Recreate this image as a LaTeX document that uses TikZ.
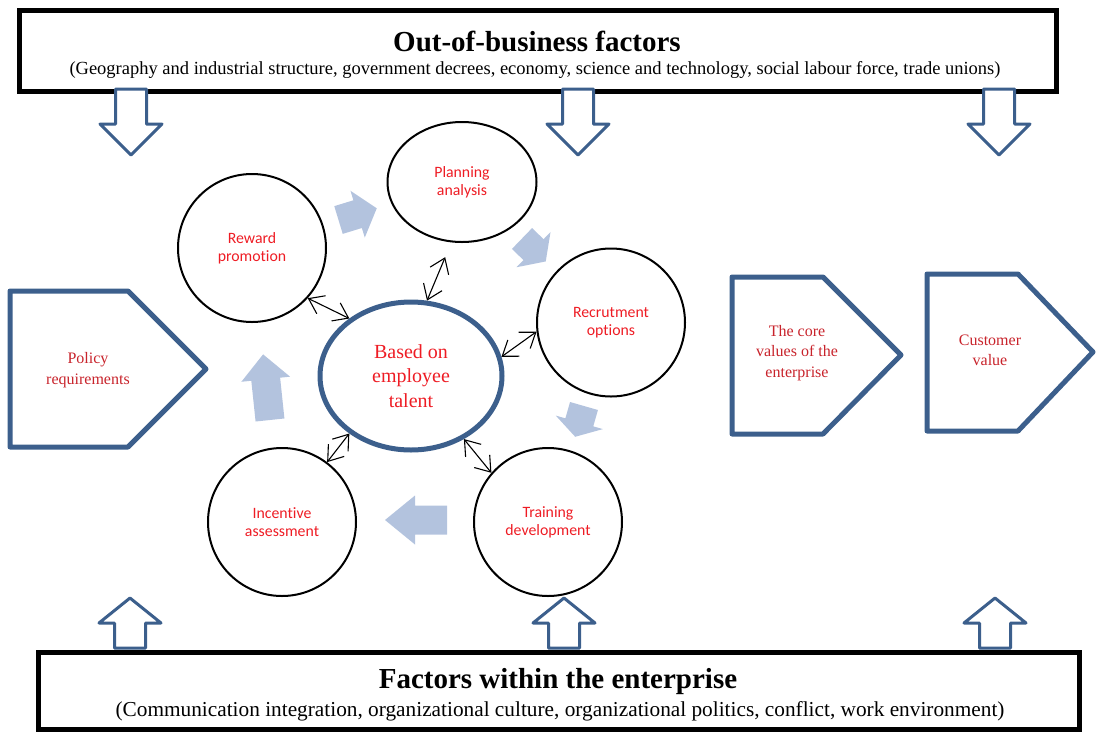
\documentclass[tikz,border=0pt]{standalone}
\usepackage{fontspec}
\setmainfont{Liberation Serif}
\newfontfamily\calib[RawFeature={-liga;-clig;-calt;-dlig}]{Carlito}
\usetikzlibrary{arrows.meta,shapes.geometric}
\definecolor{dblue}{HTML}{3C5F8C}
\definecolor{lblue}{HTML}{B3C3DE}
\definecolor{cred}{HTML}{EE1C24}
\definecolor{pred}{HTML}{C8232B}
\tikzset{
  framebox/.style={draw=black, line width=5pt, inner sep=0pt},
  circnode/.style={circle, draw=black, line width=2pt, inner sep=0pt, minimum size=148pt,
    align=center, text=cred, font=\calib\fontsize{15.8}{18}\selectfont},
  ellnode/.style={ellipse, draw=black, line width=2pt, inner sep=0pt,
    align=center, text=cred, font=\calib\fontsize{15.8}{18}\selectfont},
  hubnode/.style={ellipse, draw=dblue, line width=5pt, inner sep=0pt, minimum width=182pt, minimum height=148pt,
    align=center, text=cred, font=\fontsize{20}{24.5}\selectfont},
  penta/.style={draw=dblue, line width=5pt, line join=round},
  pentatext/.style={align=center, text=pred, font=\fontsize{16}{20.3}\selectfont, inner sep=0pt},
  hollow/.style={draw=dblue, line width=3pt, line join=round, fill=white},
  blockfill/.style={fill=lblue},
  dbl/.style={black, line width=1.1pt, {Straight Barb[length=14pt,width=20pt]}-{Straight Barb[length=14pt,width=20pt]}},
  titletext/.style={font=\bfseries\fontsize{29}{34}\selectfont, inner sep=0pt},
  topsubtext/.style={font=\fontsize{18.5}{22}\selectfont, inner sep=0pt},
  botsubtext/.style={font=\fontsize{21.3}{24}\selectfont, inner sep=0pt}
}
\newcommand{\hdown}[1]{\draw[hollow] ({#1-15.5},89) -- ({#1+15.5},89) -- ({#1+15.5},124) -- ({#1+31},124) -- (#1,155) -- ({#1-31},124) -- ({#1-15.5},124) -- cycle;}
\newcommand{\hup}[1]{\draw[hollow] ({#1-15.5},648) -- ({#1+15.5},648) -- ({#1+15.5},623) -- ({#1+31},623) -- (#1,598) -- ({#1-31},623) -- ({#1-15.5},623) -- cycle;}
\newcommand{\blockarr}[5]{\fill[blockfill, shift={(#1,#2)}, rotate=#3] (0,-14.5) -- ({#4-#5},-14.5) -- ({#4-#5},-24.5) -- (#4,0) -- ({#4-#5},24.5) -- ({#4-#5},14.5) -- (0,14.5) -- cycle;}
\begin{document}
\begin{tikzpicture}[x=1pt,y=-1pt]
\useasboundingbox (0,0) rectangle (1096,732);
% frames
\node[framebox, minimum width=1037pt, minimum height=81pt] (topbox) at (537.5,50.5) {};
\node[titletext] (toptitle) at (537,41) {Out-of-business factors};
\node[topsubtext] (topsub) at (535,70) {(Geography and industrial structure, government decrees, economy, science and technology, social labour force, trade unions)};
\node[framebox, minimum width=1041pt, minimum height=77pt] (botbox) at (558.5,690.5) {};
\node[titletext] (bottitle) at (558,682) {Factors within the enterprise};
\node[botsubtext] (botsub) at (560,711) {(Communication integration, organizational culture, organizational politics, conflict, work environment)};
% hollow arrows
\hdown{131}\hdown{578}\hdown{999}
\hup{130}\hup{564}\hup{995}
% pentagons
\draw[penta] (10,291) -- (128,291) -- (206,369) -- (128,447) -- (10,447) -- cycle;
\node[pentatext] (policy) at (88,370) {Policy\\requirements};
\draw[penta] (732,277) -- (823,277) -- (901,355) -- (823,434) -- (732,434) -- cycle;
\node[pentatext] (core) at (797,353) {The core\\values of the\\enterprise};
\draw[penta] (927,274) -- (1018,274) -- (1093,352) -- (1018,431) -- (927,431) -- cycle;
\node[pentatext] (cust) at (990,350) {Customer\\value};
% circles
\node[ellnode, minimum width=149pt, minimum height=120pt] (plan) at (462,182) {Planning\\analysis};
\node[circnode] (reward) at (252,248) {Reward\\promot\kern0pt ion};
\node[circnode] (recr) at (611,322.5) {Recrutment\\opt\kern0pt ions};
\node[circnode] (incent) at (282,522) {Incent\kern0pt ive\\assessment};
\node[circnode] (train) at (548,522) {Training\\development};
\node[hubnode] (hub) at (411,376) {Based on\\employee\\talent};
% block arrows
\blockarr{338.5}{220}{17}{40}{20}
\blockarr{522}{238.5}{-44}{33}{17}
\blockarr{584}{406}{-106}{32}{15}
\blockarr{447}{520}{180}{62}{30}
\blockarr{270}{420}{96}{66}{25}
% double arrows
\draw[dbl] (reward.-42) -- (hub.137);
\draw[dbl, shorten <=16pt] (plan.-100) -- (hub.78);
\draw[dbl] (recr.-173) -- (hub.12);
\draw[dbl] (incent.53) -- (hub.-137);
\draw[dbl] (train.139) -- (hub.-50);
\end{tikzpicture}
\end{document}
